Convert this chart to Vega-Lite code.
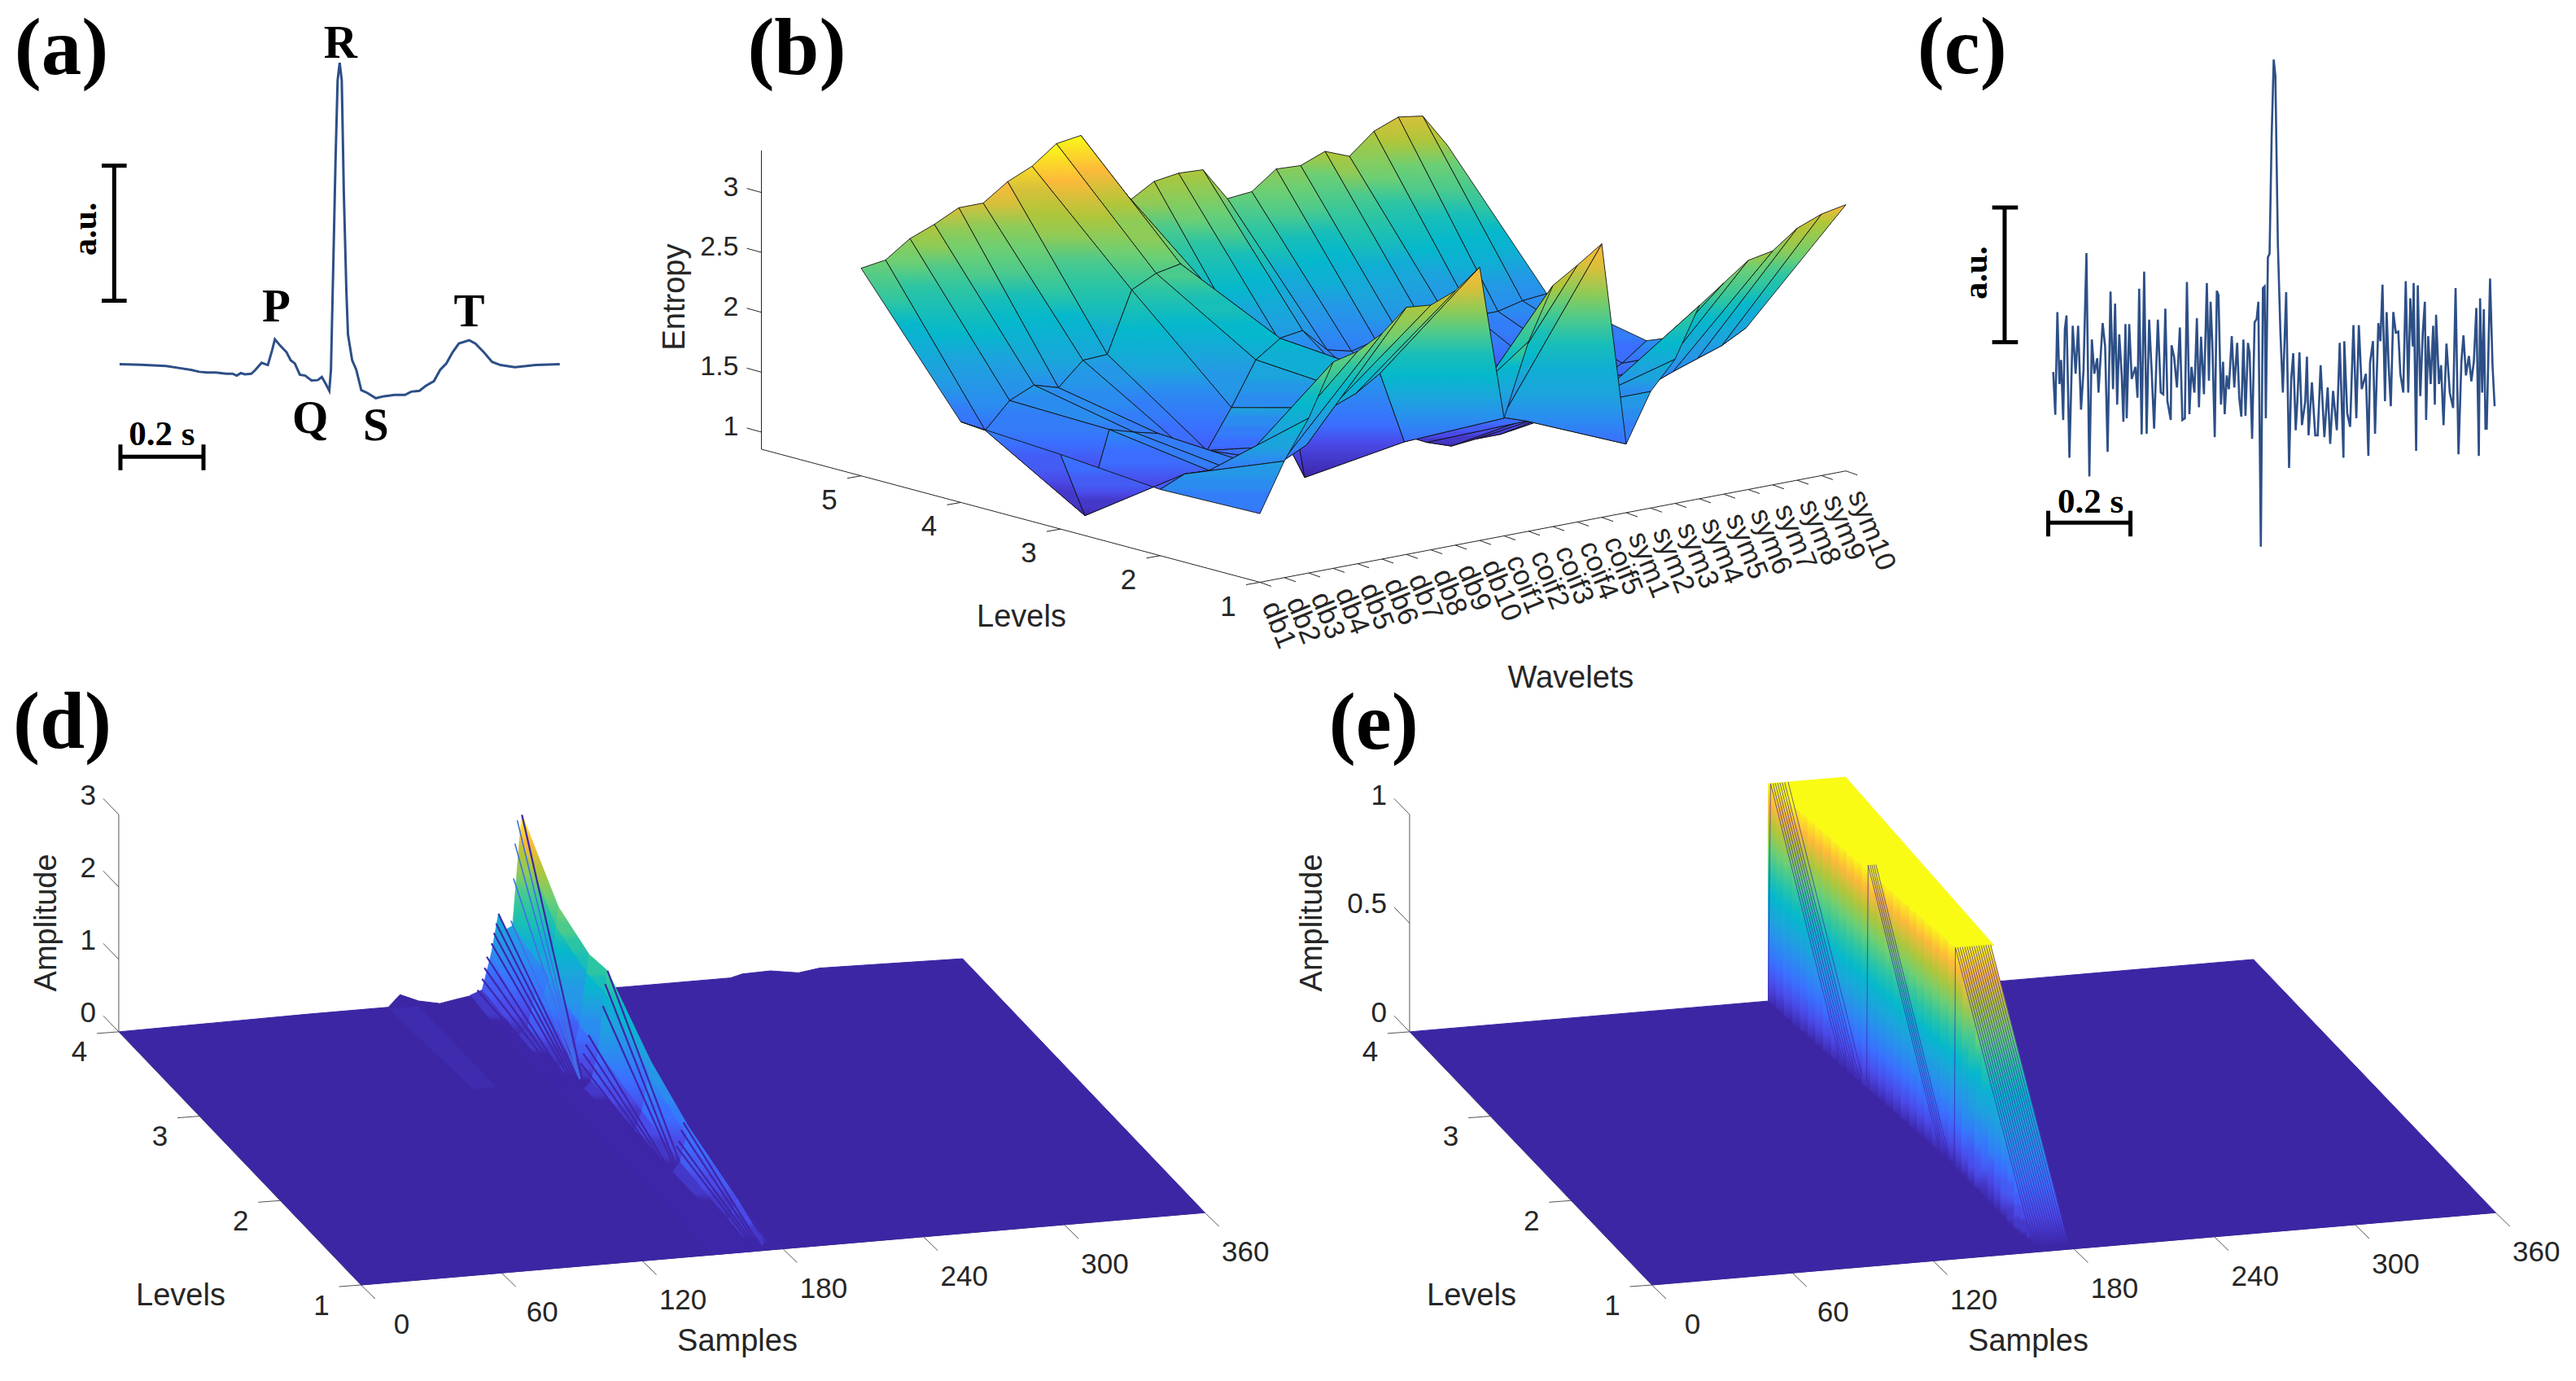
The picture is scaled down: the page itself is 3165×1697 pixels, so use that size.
{"$schema":"https://vega.github.io/schema/vega-lite/v6.json","padding":0,"background":"white","bounds":"flush","spacing":0,"columns":3,"config":{"view":{"stroke":null},"concat":{"spacing":0}},
"params":[{"name":"pal","value":["#3e26a8","#4438c8","#4a4ae8","#435cf4","#3b6eff","#337df8","#2b8cf0","#2498e6","#1ca4dc","#10aed4","#05b8cc","#18beb8","#2cc5a4","#4cca8c","#6ccf74","#8ecb57","#b0c63a","#d6c03a","#fdb93a","#fbda28","#f9fb15"]}],
"datasets":{
"a":[{"ms":288,"amp":868},{"ms":340,"amp":866},{"ms":400,"amp":862},{"ms":430,"amp":856},{"ms":460,"amp":850},{"ms":480,"amp":844},{"ms":500,"amp":842},{"ms":520,"amp":842},{"ms":545,"amp":838},{"ms":560,"amp":838},{"ms":570,"amp":832},{"ms":580,"amp":840},{"ms":590,"amp":836},{"ms":605,"amp":838},{"ms":615,"amp":850},{"ms":630,"amp":872},{"ms":645,"amp":865},{"ms":655,"amp":910},{"ms":662,"amp":945},{"ms":675,"amp":925},{"ms":690,"amp":905},{"ms":700,"amp":880},{"ms":710,"amp":870},{"ms":722,"amp":835},{"ms":735,"amp":832},{"ms":750,"amp":817},{"ms":765,"amp":818},{"ms":775,"amp":828},{"ms":785,"amp":805},{"ms":793,"amp":785},{"ms":797,"amp":850},{"ms":803,"amp":1200},{"ms":808,"amp":1500},{"ms":813,"amp":1750},{"ms":818,"amp":1805},{"ms":823,"amp":1750},{"ms":828,"amp":1400},{"ms":834,"amp":1100},{"ms":838,"amp":960},{"ms":848,"amp":880},{"ms":858,"amp":850},{"ms":870,"amp":787},{"ms":885,"amp":778},{"ms":905,"amp":762},{"ms":925,"amp":768},{"ms":950,"amp":772},{"ms":975,"amp":772},{"ms":990,"amp":782},{"ms":1010,"amp":785},{"ms":1025,"amp":800},{"ms":1045,"amp":815},{"ms":1060,"amp":850},{"ms":1075,"amp":870},{"ms":1090,"amp":905},{"ms":1105,"amp":932},{"ms":1130,"amp":942},{"ms":1145,"amp":932},{"ms":1165,"amp":905},{"ms":1185,"amp":875},{"ms":1205,"amp":865},{"ms":1240,"amp":858},{"ms":1290,"amp":865},{"ms":1348,"amp":868}],
"aBars":[{"ms":275,"ms2":275,"amp":1485,"amp2":1065},{"ms":245,"ms2":305,"amp":1485,"amp2":1485},{"ms":245,"ms2":305,"amp":1065,"amp2":1065},{"ms":290,"ms2":490,"amp":580,"amp2":580},{"ms":290,"ms2":290,"amp":618,"amp2":538},{"ms":490,"ms2":490,"amp":618,"amp2":538}],
"c":[{"ms":397,"amp":585},{"ms":402,"amp":460},{"ms":407,"amp":760},{"ms":412,"amp":550},{"ms":416,"amp":620},{"ms":421,"amp":445},{"ms":425,"amp":710},{"ms":429,"amp":750},{"ms":436,"amp":335},{"ms":444,"amp":720},{"ms":451,"amp":580},{"ms":457,"amp":720},{"ms":464,"amp":475},{"ms":470,"amp":590},{"ms":477,"amp":932},{"ms":484,"amp":280},{"ms":490,"amp":680},{"ms":496,"amp":580},{"ms":503,"amp":625},{"ms":506,"amp":525},{"ms":516,"amp":728},{"ms":522,"amp":660},{"ms":528,"amp":352},{"ms":535,"amp":820},{"ms":541,"amp":535},{"ms":546,"amp":785},{"ms":551,"amp":490},{"ms":556,"amp":695},{"ms":562,"amp":575},{"ms":566,"amp":440},{"ms":571,"amp":725},{"ms":574,"amp":450},{"ms":580,"amp":725},{"ms":586,"amp":565},{"ms":595,"amp":600},{"ms":600,"amp":510},{"ms":604,"amp":828},{"ms":610,"amp":403},{"ms":616,"amp":878},{"ms":622,"amp":405},{"ms":628,"amp":738},{"ms":634,"amp":590},{"ms":640,"amp":420},{"ms":649,"amp":738},{"ms":656,"amp":525},{"ms":662,"amp":520},{"ms":667,"amp":770},{"ms":672,"amp":500},{"ms":680,"amp":445},{"ms":682,"amp":663},{"ms":688,"amp":630},{"ms":695,"amp":540},{"ms":702,"amp":715},{"ms":708,"amp":445},{"ms":714,"amp":450},{"ms":719,"amp":848},{"ms":725,"amp":462},{"ms":730,"amp":600},{"ms":737,"amp":525},{"ms":743,"amp":742},{"ms":748,"amp":482},{"ms":753,"amp":688},{"ms":760,"amp":520},{"ms":767,"amp":845},{"ms":772,"amp":560},{"ms":776,"amp":790},{"ms":780,"amp":675},{"ms":786,"amp":395},{"ms":791,"amp":822},{"ms":795,"amp":810},{"ms":801,"amp":490},{"ms":806,"amp":615},{"ms":810,"amp":462},{"ms":815,"amp":575},{"ms":820,"amp":535},{"ms":827,"amp":690},{"ms":833,"amp":540},{"ms":840,"amp":670},{"ms":845,"amp":510},{"ms":850,"amp":455},{"ms":855,"amp":680},{"ms":860,"amp":457},{"ms":866,"amp":670},{"ms":870,"amp":640},{"ms":876,"amp":390},{"ms":882,"amp":730},{"ms":887,"amp":740},{"ms":891,"amp":790},{"ms":897,"amp":75},{"ms":902,"amp":830},{"ms":906,"amp":835},{"ms":909,"amp":450},{"ms":914,"amp":920},{"ms":918,"amp":930},{"ms":923,"amp":1270},{"ms":928,"amp":1497},{"ms":932,"amp":1450},{"ms":938,"amp":960},{"ms":944,"amp":705},{"ms":950,"amp":525},{"ms":958,"amp":818},{"ms":965,"amp":305},{"ms":970,"amp":560},{"ms":975,"amp":640},{"ms":981,"amp":415},{"ms":985,"amp":500},{"ms":990,"amp":642},{"ms":996,"amp":430},{"ms":1004,"amp":500},{"ms":1008,"amp":630},{"ms":1012,"amp":400},{"ms":1020,"amp":555},{"ms":1028,"amp":400},{"ms":1034,"amp":400},{"ms":1041,"amp":605},{"ms":1050,"amp":395},{"ms":1058,"amp":540},{"ms":1064,"amp":375},{"ms":1071,"amp":530},{"ms":1080,"amp":415},{"ms":1087,"amp":670},{"ms":1096,"amp":335},{"ms":1098,"amp":675},{"ms":1105,"amp":465},{"ms":1112,"amp":425},{"ms":1120,"amp":722},{"ms":1127,"amp":450},{"ms":1133,"amp":722},{"ms":1140,"amp":535},{"ms":1150,"amp":580},{"ms":1156,"amp":340},{"ms":1160,"amp":612},{"ms":1167,"amp":675},{"ms":1172,"amp":405},{"ms":1180,"amp":728},{"ms":1185,"amp":675},{"ms":1190,"amp":840},{"ms":1196,"amp":500},{"ms":1200,"amp":760},{"ms":1205,"amp":600},{"ms":1210,"amp":485},{"ms":1216,"amp":760},{"ms":1222,"amp":700},{"ms":1228,"amp":703},{"ms":1233,"amp":580},{"ms":1240,"amp":525},{"ms":1246,"amp":850},{"ms":1252,"amp":525},{"ms":1257,"amp":800},{"ms":1263,"amp":660},{"ms":1265,"amp":845},{"ms":1271,"amp":355},{"ms":1275,"amp":838},{"ms":1281,"amp":515},{"ms":1287,"amp":700},{"ms":1292,"amp":790},{"ms":1295,"amp":445},{"ms":1300,"amp":690},{"ms":1306,"amp":550},{"ms":1312,"amp":720},{"ms":1316,"amp":490},{"ms":1319,"amp":752},{"ms":1326,"amp":550},{"ms":1331,"amp":605},{"ms":1337,"amp":430},{"ms":1344,"amp":668},{"ms":1352,"amp":525},{"ms":1360,"amp":480},{"ms":1366,"amp":830},{"ms":1373,"amp":345},{"ms":1380,"amp":615},{"ms":1385,"amp":692},{"ms":1391,"amp":575},{"ms":1398,"amp":632},{"ms":1404,"amp":558},{"ms":1410,"amp":615},{"ms":1416,"amp":772},{"ms":1422,"amp":340},{"ms":1425,"amp":800},{"ms":1430,"amp":525},{"ms":1434,"amp":768},{"ms":1438,"amp":420},{"ms":1441,"amp":420},{"ms":1449,"amp":858},{"ms":1455,"amp":605},{"ms":1460,"amp":485}],
"cBars":[{"ms":280,"ms2":280,"amp":1065,"amp2":672},{"ms":250,"ms2":312,"amp":1065,"amp2":1065},{"ms":250,"ms2":312,"amp":672,"amp2":672},{"ms":385,"ms2":583,"amp":145,"amp2":145},{"ms":385,"ms2":385,"amp":180,"amp2":105},{"ms":583,"ms2":583,"amp":180,"amp2":105}],
"b":[
{"k":"g","i":25,"l":5,"z":2.69},{"k":"g","i":24,"l":5,"z":2.97},{"k":"g","i":23,"l":5,"z":3.0},{"k":"g","i":22,"l":5,"z":2.92},{"k":"g","i":21,"l":5,"z":2.75},{"k":"g","i":20,"l":5,"z":2.83},{"k":"g","i":19,"l":5,"z":2.75},{"k":"g","i":18,"l":5,"z":2.76},{"k":"g","i":17,"l":5,"z":2.61},{"k":"g","i":16,"l":5,"z":2.59},{"k":"g","i":15,"l":5,"z":2.87},{"k":"g","i":14,"l":5,"z":2.88},{"k":"g","i":13,"l":5,"z":2.85},{"k":"g","i":12,"l":5,"z":2.73},{"k":"g","i":11,"l":5,"z":3.02},{"k":"g","i":10,"l":5,"z":3.35},{"k":"g","i":9,"l":5,"z":3.32},{"k":"g","i":8,"l":5,"z":3.17},{"k":"g","i":7,"l":5,"z":3.08},{"k":"g","i":6,"l":5,"z":2.94},{"k":"g","i":5,"l":5,"z":2.94},{"k":"g","i":4,"l":5,"z":2.84},{"k":"g","i":3,"l":5,"z":2.76},{"k":"g","i":2,"l":5,"z":2.62},{"k":"g","i":1,"l":5,"z":2.59},
{"k":"g","i":25,"l":4,"z":1.67},{"k":"g","i":24,"l":4,"z":1.65},{"k":"g","i":23,"l":4,"z":1.6},{"k":"g","i":22,"l":4,"z":1.6},{"k":"g","i":21,"l":4,"z":1.6},{"k":"g","i":20,"l":4,"z":1.6},{"k":"g","i":19,"l":4,"z":1.55},{"k":"g","i":18,"l":4,"z":1.55},{"k":"g","i":17,"l":4,"z":1.5},{"k":"g","i":16,"l":4,"z":1.55},{"k":"g","i":15,"l":4,"z":1.75},{"k":"g","i":14,"l":4,"z":1.72},{"k":"g","i":13,"l":4,"z":1.59},{"k":"g","i":12,"l":4,"z":1.6},{"k":"g","i":11,"l":4,"z":2.3},{"k":"g","i":10,"l":4,"z":2.5},{"k":"g","i":9,"l":4,"z":2.46},{"k":"g","i":8,"l":4,"z":2.36},{"k":"g","i":7,"l":4,"z":1.86},{"k":"g","i":6,"l":4,"z":1.85},{"k":"g","i":5,"l":4,"z":1.66},{"k":"g","i":4,"l":4,"z":1.72},{"k":"g","i":3,"l":4,"z":1.63},{"k":"g","i":2,"l":4,"z":1.42},{"k":"g","i":1,"l":4,"z":1.53},
{"k":"g","i":25,"l":3,"z":1.5},{"k":"g","i":24,"l":3,"z":1.35},{"k":"g","i":23,"l":3,"z":1.25},{"k":"g","i":22,"l":3,"z":1.15},{"k":"g","i":21,"l":3,"z":1.05},{"k":"g","i":20,"l":3,"z":0.98},{"k":"g","i":19,"l":3,"z":0.95},{"k":"g","i":18,"l":3,"z":0.95},{"k":"g","i":17,"l":3,"z":0.93},{"k":"g","i":16,"l":3,"z":1.0},{"k":"g","i":15,"l":3,"z":1.1},{"k":"g","i":14,"l":3,"z":1.1},{"k":"g","i":13,"l":3,"z":1.05},{"k":"g","i":12,"l":3,"z":1.0},{"k":"g","i":11,"l":3,"z":0.9},{"k":"g","i":10,"l":3,"z":2.1},{"k":"g","i":9,"l":3,"z":1.96},{"k":"g","i":8,"l":3,"z":1.6},{"k":"g","i":7,"l":3,"z":1.28},{"k":"g","i":6,"l":3,"z":1.35},{"k":"g","i":5,"l":3,"z":1.5},{"k":"g","i":4,"l":3,"z":1.55},{"k":"g","i":3,"l":3,"z":1.61},{"k":"g","i":2,"l":3,"z":0.93},{"k":"g","i":1,"l":3,"z":1.48},
{"k":"g","i":25,"l":2,"z":1.83},{"k":"g","i":24,"l":2,"z":1.72},{"k":"g","i":23,"l":2,"z":1.65},{"k":"g","i":22,"l":2,"z":1.58},{"k":"g","i":21,"l":2,"z":1.5},{"k":"g","i":20,"l":2,"z":1.5},{"k":"g","i":19,"l":2,"z":1.5},{"k":"g","i":18,"l":2,"z":1.45},{"k":"g","i":17,"l":2,"z":1.45},{"k":"g","i":16,"l":2,"z":1.4},{"k":"g","i":15,"l":2,"z":1.47},{"k":"g","i":14,"l":2,"z":1.46},{"k":"g","i":13,"l":2,"z":1.45},{"k":"g","i":12,"l":2,"z":1.44},{"k":"g","i":11,"l":2,"z":1.42},{"k":"g","i":10,"l":2,"z":2.03},{"k":"g","i":9,"l":2,"z":1.9},{"k":"g","i":8,"l":2,"z":1.82},{"k":"g","i":7,"l":2,"z":1.55},{"k":"g","i":6,"l":2,"z":1.45},{"k":"g","i":5,"l":2,"z":1.45},{"k":"g","i":4,"l":2,"z":1.45},{"k":"g","i":3,"l":2,"z":1.49},{"k":"g","i":2,"l":2,"z":1.5},{"k":"g","i":1,"l":2,"z":1.41},
{"k":"g","i":25,"l":1,"z":3.08},{"k":"g","i":24,"l":1,"z":3.04},{"k":"g","i":23,"l":1,"z":2.96},{"k":"g","i":22,"l":1,"z":2.81},{"k":"g","i":21,"l":1,"z":2.77},{"k":"g","i":20,"l":1,"z":2.62},{"k":"g","i":19,"l":1,"z":2.47},{"k":"g","i":18,"l":1,"z":2.06},{"k":"g","i":17,"l":1,"z":1.83},{"k":"g","i":16,"l":1,"z":1.43},{"k":"g","i":15,"l":1,"z":3.14},{"k":"g","i":14,"l":1,"z":3.0},{"k":"g","i":13,"l":1,"z":2.87},{"k":"g","i":12,"l":1,"z":2.44},{"k":"g","i":11,"l":1,"z":1.84},{"k":"g","i":10,"l":1,"z":3.14},{"k":"g","i":9,"l":1,"z":2.98},{"k":"g","i":8,"l":1,"z":2.9},{"k":"g","i":7,"l":1,"z":2.92},{"k":"g","i":6,"l":1,"z":2.74},{"k":"g","i":5,"l":1,"z":2.63},{"k":"g","i":4,"l":1,"z":2.58},{"k":"g","i":3,"l":1,"z":2.15},{"k":"g","i":2,"l":1,"z":1.83},{"k":"g","i":1,"l":1,"z":1.43},
{"k":"ax","i":1,"l":6,"z":0.857,"i2":1,"l2":1,"z2":0.857},{"k":"ax","i":1,"l":1,"z":0.857,"i2":25,"l2":1,"z2":0.857},{"k":"ax","i":1,"l":6,"z":0.857,"i2":1,"l2":6,"z2":3.35},
{"k":"lt","i":1,"l":1,"z":0.857,"t":"1"},{"k":"lt","i":1,"l":2,"z":0.857,"t":"2"},{"k":"lt","i":1,"l":3,"z":0.857,"t":"3"},{"k":"lt","i":1,"l":4,"z":0.857,"t":"4"},{"k":"lt","i":1,"l":5,"z":0.857,"t":"5"},
{"k":"zt","i":1,"l":6,"z":1,"t":"1"},{"k":"zt","i":1,"l":6,"z":1.5,"t":"1.5"},{"k":"zt","i":1,"l":6,"z":2,"t":"2"},{"k":"zt","i":1,"l":6,"z":2.5,"t":"2.5"},{"k":"zt","i":1,"l":6,"z":3,"t":"3"},
{"k":"wt","i":1,"l":1,"z":0.857,"t":"db1"},{"k":"wt","i":2,"l":1,"z":0.857,"t":"db2"},{"k":"wt","i":3,"l":1,"z":0.857,"t":"db3"},{"k":"wt","i":4,"l":1,"z":0.857,"t":"db4"},{"k":"wt","i":5,"l":1,"z":0.857,"t":"db5"},{"k":"wt","i":6,"l":1,"z":0.857,"t":"db6"},{"k":"wt","i":7,"l":1,"z":0.857,"t":"db7"},{"k":"wt","i":8,"l":1,"z":0.857,"t":"db8"},{"k":"wt","i":9,"l":1,"z":0.857,"t":"db9"},{"k":"wt","i":10,"l":1,"z":0.857,"t":"db10"},{"k":"wt","i":11,"l":1,"z":0.857,"t":"coif1"},{"k":"wt","i":12,"l":1,"z":0.857,"t":"coif2"},{"k":"wt","i":13,"l":1,"z":0.857,"t":"coif3"},{"k":"wt","i":14,"l":1,"z":0.857,"t":"coif4"},{"k":"wt","i":15,"l":1,"z":0.857,"t":"coif5"},{"k":"wt","i":16,"l":1,"z":0.857,"t":"sym1"},{"k":"wt","i":17,"l":1,"z":0.857,"t":"sym2"},{"k":"wt","i":18,"l":1,"z":0.857,"t":"sym3"},{"k":"wt","i":19,"l":1,"z":0.857,"t":"sym4"},{"k":"wt","i":20,"l":1,"z":0.857,"t":"sym5"},{"k":"wt","i":21,"l":1,"z":0.857,"t":"sym6"},{"k":"wt","i":22,"l":1,"z":0.857,"t":"sym7"},{"k":"wt","i":23,"l":1,"z":0.857,"t":"sym8"},{"k":"wt","i":24,"l":1,"z":0.857,"t":"sym9"},{"k":"wt","i":25,"l":1,"z":0.857,"t":"sym10"},
{"k":"ti","i":-0.6,"l":3,"z":0.178,"t":"Levels"},{"k":"ti","i":13.73,"l":1,"z":-0.441,"t":"Wavelets"},{"k":"ty","i":-2.51,"l":6,"z":2.263,"t":"Entropy"},{"k":"pl","i":0.43,"l":6,"z":4.01,"t":"(b)"}
],
"d":[
{"k":"p","o":0,"s":0,"l":4,"z":0},{"k":"p","o":1,"s":40,"l":4,"z":0.01},{"k":"p","o":2,"s":80,"l":4,"z":0.02},{"k":"p","o":3,"s":115,"l":4,"z":0.02},{"k":"p","o":4,"s":120,"l":4,"z":0.18},{"k":"p","o":5,"s":128,"l":4,"z":0.07},{"k":"p","o":6,"s":137,"l":4,"z":0.01},{"k":"p","o":7,"s":144,"l":4,"z":0.05},{"k":"p","o":8,"s":152,"l":4,"z":0.09},{"k":"p","o":9,"s":215,"l":4,"z":0.02},{"k":"p","o":10,"s":261,"l":4,"z":0.02},{"k":"p","o":11,"s":266,"l":4,"z":0.06},{"k":"p","o":12,"s":278,"l":4,"z":0.07},{"k":"p","o":13,"s":290,"l":4,"z":0.01},{"k":"p","o":14,"s":299,"l":4,"z":0.05},{"k":"p","o":15,"s":360,"l":4,"z":0.01},{"k":"p","o":16,"s":360,"l":1,"z":0},{"k":"p","o":17,"s":0,"l":1,"z":0},
{"k":"pw","o":0,"s":115,"l":4,"z":0},{"k":"pw","o":1,"s":128,"l":4,"z":0},{"k":"pw","o":2,"s":128,"l":3.04,"z":0},{"k":"pw","o":3,"s":118,"l":3.04,"z":0},
{"k":"g","g":"m","c":9,"r":7,"s":180,"l":4,"z":0},{"k":"g","g":"m","c":8,"r":7,"s":176,"l":4,"z":0.4},{"k":"g","g":"m","c":7,"r":7,"s":172,"l":4,"z":2.52},{"k":"g","g":"m","c":6,"r":7,"s":171,"l":4,"z":2.2},{"k":"g","g":"m","c":5,"r":7,"s":168,"l":4,"z":1.0},{"k":"g","g":"m","c":4,"r":7,"s":165,"l":4,"z":0.95},{"k":"g","g":"m","c":3,"r":7,"s":162,"l":4,"z":1.18},{"k":"g","g":"m","c":2,"r":7,"s":159,"l":4,"z":0.65},{"k":"g","g":"m","c":1,"r":7,"s":155,"l":4,"z":0.15},{"k":"g","g":"m","c":0,"r":7,"s":150,"l":4,"z":0.09},
{"k":"g","g":"m","c":9,"r":6,"s":180,"l":3.55,"z":0},{"k":"g","g":"m","c":8,"r":6,"s":176,"l":3.55,"z":0.3},{"k":"g","g":"m","c":7,"r":6,"s":172,"l":3.55,"z":1.77},{"k":"g","g":"m","c":6,"r":6,"s":171,"l":3.55,"z":1.5},{"k":"g","g":"m","c":5,"r":6,"s":168,"l":3.55,"z":0.8},{"k":"g","g":"m","c":4,"r":6,"s":165,"l":3.55,"z":0.5},{"k":"g","g":"m","c":3,"r":6,"s":162,"l":3.55,"z":0.6},{"k":"g","g":"m","c":2,"r":6,"s":159,"l":3.55,"z":0.15},{"k":"g","g":"m","c":1,"r":6,"s":155,"l":3.55,"z":0.05},{"k":"g","g":"m","c":0,"r":6,"s":150,"l":3.55,"z":0},
{"k":"g","g":"m","c":9,"r":5,"s":180,"l":3.17,"z":0},{"k":"g","g":"m","c":8,"r":5,"s":176,"l":3.17,"z":0.25},{"k":"g","g":"m","c":7,"r":5,"s":172,"l":3.17,"z":1.56},{"k":"g","g":"m","c":6,"r":5,"s":171,"l":3.17,"z":1.3},{"k":"g","g":"m","c":5,"r":5,"s":168,"l":3.17,"z":0.6},{"k":"g","g":"m","c":4,"r":5,"s":165,"l":3.17,"z":0.2},{"k":"g","g":"m","c":3,"r":5,"s":162,"l":3.17,"z":0.12},{"k":"g","g":"m","c":2,"r":5,"s":159,"l":3.17,"z":0.05},{"k":"g","g":"m","c":1,"r":5,"s":155,"l":3.17,"z":0},{"k":"g","g":"m","c":0,"r":5,"s":150,"l":3.17,"z":0},
{"k":"g","g":"m","c":9,"r":4,"s":180,"l":2.94,"z":0},{"k":"g","g":"m","c":8,"r":4,"s":176,"l":2.94,"z":0.2},{"k":"g","g":"m","c":7,"r":4,"s":172,"l":2.94,"z":1.6},{"k":"g","g":"m","c":6,"r":4,"s":171,"l":2.94,"z":1.3},{"k":"g","g":"m","c":5,"r":4,"s":168,"l":2.94,"z":0.5},{"k":"g","g":"m","c":4,"r":4,"s":165,"l":2.94,"z":0.1},{"k":"g","g":"m","c":3,"r":4,"s":162,"l":2.94,"z":0},{"k":"g","g":"m","c":2,"r":4,"s":159,"l":2.94,"z":0},{"k":"g","g":"m","c":1,"r":4,"s":155,"l":2.94,"z":0},{"k":"g","g":"m","c":0,"r":4,"s":150,"l":2.94,"z":0},
{"k":"g","g":"m","c":9,"r":3,"s":180,"l":2.4,"z":0},{"k":"g","g":"m","c":8,"r":3,"s":176,"l":2.4,"z":0.12},{"k":"g","g":"m","c":7,"r":3,"s":172,"l":2.4,"z":0.97},{"k":"g","g":"m","c":6,"r":3,"s":171,"l":2.4,"z":0.8},{"k":"g","g":"m","c":5,"r":3,"s":168,"l":2.4,"z":0.3},{"k":"g","g":"m","c":4,"r":3,"s":165,"l":2.4,"z":0.05},{"k":"g","g":"m","c":3,"r":3,"s":162,"l":2.4,"z":0},{"k":"g","g":"m","c":2,"r":3,"s":159,"l":2.4,"z":0},{"k":"g","g":"m","c":1,"r":3,"s":155,"l":2.4,"z":0},{"k":"g","g":"m","c":0,"r":3,"s":150,"l":2.4,"z":0},
{"k":"g","g":"m","c":9,"r":2,"s":180,"l":1.93,"z":0},{"k":"g","g":"m","c":8,"r":2,"s":176,"l":1.93,"z":0.08},{"k":"g","g":"m","c":7,"r":2,"s":172,"l":1.93,"z":0.61},{"k":"g","g":"m","c":6,"r":2,"s":171,"l":1.93,"z":0.5},{"k":"g","g":"m","c":5,"r":2,"s":168,"l":1.93,"z":0.15},{"k":"g","g":"m","c":4,"r":2,"s":165,"l":1.93,"z":0.02},{"k":"g","g":"m","c":3,"r":2,"s":162,"l":1.93,"z":0},{"k":"g","g":"m","c":2,"r":2,"s":159,"l":1.93,"z":0},{"k":"g","g":"m","c":1,"r":2,"s":155,"l":1.93,"z":0},{"k":"g","g":"m","c":0,"r":2,"s":150,"l":1.93,"z":0},
{"k":"g","g":"m","c":9,"r":1,"s":180,"l":1.33,"z":0},{"k":"g","g":"m","c":8,"r":1,"s":176,"l":1.33,"z":0.04},{"k":"g","g":"m","c":7,"r":1,"s":172,"l":1.33,"z":0.32},{"k":"g","g":"m","c":6,"r":1,"s":171,"l":1.33,"z":0.25},{"k":"g","g":"m","c":5,"r":1,"s":168,"l":1.33,"z":0.05},{"k":"g","g":"m","c":4,"r":1,"s":165,"l":1.33,"z":0},{"k":"g","g":"m","c":3,"r":1,"s":162,"l":1.33,"z":0},{"k":"g","g":"m","c":2,"r":1,"s":159,"l":1.33,"z":0},{"k":"g","g":"m","c":1,"r":1,"s":155,"l":1.33,"z":0},{"k":"g","g":"m","c":0,"r":1,"s":150,"l":1.33,"z":0},
{"k":"g","g":"m","c":9,"r":0,"s":180,"l":1,"z":0},{"k":"g","g":"m","c":8,"r":0,"s":176,"l":1,"z":0.01},{"k":"g","g":"m","c":7,"r":0,"s":172,"l":1,"z":0.1},{"k":"g","g":"m","c":6,"r":0,"s":171,"l":1,"z":0.07},{"k":"g","g":"m","c":5,"r":0,"s":168,"l":1,"z":0},{"k":"g","g":"m","c":4,"r":0,"s":165,"l":1,"z":0},{"k":"g","g":"m","c":3,"r":0,"s":162,"l":1,"z":0},{"k":"g","g":"m","c":2,"r":0,"s":159,"l":1,"z":0},{"k":"g","g":"m","c":1,"r":0,"s":155,"l":1,"z":0},{"k":"g","g":"m","c":0,"r":0,"s":150,"l":1,"z":0},
{"k":"cd","s":162,"l":4,"z":1.18,"s2":163,"l2":3.05,"z2":0},{"k":"cd","s":161,"l":4,"z":1.05,"s2":162,"l2":3.05,"z2":0},{"k":"cd","s":160,"l":4,"z":0.92,"s2":161,"l2":3.05,"z2":0},{"k":"cd","s":159,"l":4,"z":0.78,"s2":160,"l2":3.05,"z2":0},{"k":"cd","s":157,"l":4,"z":0.6,"s2":158,"l2":3.05,"z2":0},{"k":"cd","s":156,"l":4,"z":0.45,"s2":157,"l2":3.05,"z2":0},{"k":"cd","s":155,"l":4,"z":0.3,"s2":156,"l2":3.05,"z2":0},{"k":"cd","s":153,"l":4,"z":0.15,"s2":154,"l2":3.05,"z2":0},{"k":"cd","s":172,"l":4,"z":2.52,"s2":165,"l2":3.05,"z2":0},
{"k":"cd","s":172,"l":2.94,"z":1.6,"s2":172,"l2":2.05,"z2":0},{"k":"cd","s":171,"l":2.94,"z":1.42,"s2":170,"l2":2.05,"z2":0},{"k":"cd","s":170,"l":2.94,"z":1.12,"s2":169,"l2":2.05,"z2":0},{"k":"cd","s":165.9,"l":3,"z":0.66,"s2":166,"l2":2.05,"z2":0},{"k":"cd","s":164.8,"l":3,"z":0.53,"s2":165,"l2":2.05,"z2":0},{"k":"cd","s":163.7,"l":3,"z":0.41,"s2":164,"l2":2.05,"z2":0},{"k":"cd","s":162.6,"l":3,"z":0.28,"s2":163,"l2":2.05,"z2":0},
{"k":"cd","s":172,"l":2,"z":0.6,"s2":172,"l2":1.05,"z2":0},{"k":"cd","s":171,"l":2,"z":0.5,"s2":171,"l2":1.05,"z2":0},{"k":"cd","s":170,"l":2,"z":0.35,"s2":170,"l2":1.05,"z2":0},{"k":"cd","s":169,"l":2,"z":0.28,"s2":169,"l2":1.05,"z2":0},
{"k":"cb","s":170,"l":4,"z":2.45,"s2":164,"l2":3.05,"z2":0},{"k":"cb","s":169,"l":4,"z":2.13,"s2":164,"l2":3.05,"z2":0},{"k":"cb","s":168.4,"l":4,"z":1.65,"s2":164,"l2":3.05,"z2":0},{"k":"cb","s":167.3,"l":4,"z":1.07,"s2":164,"l2":3.05,"z2":0},
{"k":"ax","s":0,"l":4,"z":0,"s2":0,"l2":1,"z2":0},{"k":"ax","s":0,"l":1,"z":0,"s2":360,"l2":1,"z2":0},{"k":"ax","s":0,"l":4,"z":0,"s2":0,"l2":4,"z2":3},
{"k":"st","s":0,"l":1,"z":0,"t":"0"},{"k":"st","s":60,"l":1,"z":0,"t":"60"},{"k":"st","s":120,"l":1,"z":0,"t":"120"},{"k":"st","s":180,"l":1,"z":0,"t":"180"},{"k":"st","s":240,"l":1,"z":0,"t":"240"},{"k":"st","s":300,"l":1,"z":0,"t":"300"},{"k":"st","s":360,"l":1,"z":0,"t":"360"},
{"k":"lt","s":0,"l":1,"z":0,"t":"1"},{"k":"lt","s":0,"l":2,"z":0,"t":"2"},{"k":"lt","s":0,"l":3,"z":0,"t":"3"},{"k":"lt","s":0,"l":4,"z":0,"t":"4"},
{"k":"zt","s":0,"l":4,"z":0,"t":"0"},{"k":"zt","s":0,"l":4,"z":1,"t":"1"},{"k":"zt","s":0,"l":4,"z":2,"t":"2"},{"k":"zt","s":0,"l":4,"z":3,"t":"3"},
{"k":"ti","s":160.6,"l":1,"z":-1.23,"t":"Samples"},{"k":"ti","s":-76.9,"l":1,"z":0.06,"t":"Levels"},{"k":"ty","s":-30.4,"l":4,"z":1.59,"t":"Amplitude"},{"k":"pl","s":-45.1,"l":4,"z":4.04,"t":"(d)"}
],
"e":[
{"k":"p","o":0,"s":0,"l":4,"z":0},{"k":"p","o":1,"s":360,"l":4,"z":0},{"k":"p","o":2,"s":360,"l":1,"z":0},{"k":"p","o":3,"s":0,"l":1,"z":0},
{"k":"py","o":0,"s":153,"l":4,"z":1},{"k":"py","o":1,"s":186,"l":4,"z":1},{"k":"py","o":2,"s":181,"l":2.02,"z":1},{"k":"py","o":3,"s":165,"l":2.03,"z":1},
{"k":"g","g":"t","c":12,"r":1,"s":165,"l":1.07,"z":0},{"k":"g","g":"t","c":11,"r":1,"s":165,"l":1.15,"z":0.083},{"k":"g","g":"t","c":10,"r":1,"s":165,"l":1.23,"z":0.167},{"k":"g","g":"t","c":9,"r":1,"s":165,"l":1.31,"z":0.25},{"k":"g","g":"t","c":8,"r":1,"s":165,"l":1.39,"z":0.333},{"k":"g","g":"t","c":7,"r":1,"s":165,"l":1.47,"z":0.417},{"k":"g","g":"t","c":6,"r":1,"s":165,"l":1.55,"z":0.5},{"k":"g","g":"t","c":5,"r":1,"s":165,"l":1.63,"z":0.583},{"k":"g","g":"t","c":4,"r":1,"s":165,"l":1.71,"z":0.667},{"k":"g","g":"t","c":3,"r":1,"s":165,"l":1.79,"z":0.75},{"k":"g","g":"t","c":2,"r":1,"s":165,"l":1.87,"z":0.833},{"k":"g","g":"t","c":1,"r":1,"s":165,"l":1.95,"z":0.917},{"k":"g","g":"t","c":0,"r":1,"s":165,"l":2.03,"z":1},
{"k":"g","g":"t","c":12,"r":0,"s":165,"l":1.07,"z":0},{"k":"g","g":"t","c":11,"r":0,"s":164.96,"l":1.15,"z":0},{"k":"g","g":"t","c":10,"r":0,"s":164.92,"l":1.23,"z":0},{"k":"g","g":"t","c":9,"r":0,"s":164.88,"l":1.31,"z":0},{"k":"g","g":"t","c":8,"r":0,"s":164.83,"l":1.39,"z":0},{"k":"g","g":"t","c":7,"r":0,"s":164.79,"l":1.47,"z":0},{"k":"g","g":"t","c":6,"r":0,"s":164.75,"l":1.55,"z":0},{"k":"g","g":"t","c":5,"r":0,"s":164.71,"l":1.63,"z":0},{"k":"g","g":"t","c":4,"r":0,"s":164.67,"l":1.71,"z":0},{"k":"g","g":"t","c":3,"r":0,"s":164.63,"l":1.79,"z":0},{"k":"g","g":"t","c":2,"r":0,"s":164.58,"l":1.87,"z":0},{"k":"g","g":"t","c":1,"r":0,"s":164.54,"l":1.95,"z":0},{"k":"g","g":"t","c":0,"r":0,"s":164.5,"l":2.03,"z":0},
{"k":"g","g":"s","c":1,"r":1,"s":180,"l":2.03,"z":1},{"k":"g","g":"s","c":0,"r":1,"s":165,"l":2.03,"z":1},{"k":"g","g":"s","c":1,"r":0,"s":180,"l":1.07,"z":0},{"k":"g","g":"s","c":0,"r":0,"s":165,"l":1.07,"z":0},
{"k":"g","g":"w","c":24,"r":1,"s":165,"l":2.03,"z":1},{"k":"g","g":"w","c":23,"r":1,"s":164.5,"l":2.11,"z":1},{"k":"g","g":"w","c":22,"r":1,"s":164,"l":2.2,"z":1},{"k":"g","g":"w","c":21,"r":1,"s":163.5,"l":2.28,"z":1},{"k":"g","g":"w","c":20,"r":1,"s":163,"l":2.36,"z":1},{"k":"g","g":"w","c":19,"r":1,"s":162.5,"l":2.44,"z":1},{"k":"g","g":"w","c":18,"r":1,"s":162,"l":2.52,"z":1},{"k":"g","g":"w","c":17,"r":1,"s":161.5,"l":2.61,"z":1},{"k":"g","g":"w","c":16,"r":1,"s":161,"l":2.69,"z":1},{"k":"g","g":"w","c":15,"r":1,"s":160.5,"l":2.77,"z":1},{"k":"g","g":"w","c":14,"r":1,"s":160,"l":2.85,"z":1},{"k":"g","g":"w","c":13,"r":1,"s":159.5,"l":2.93,"z":1},{"k":"g","g":"w","c":12,"r":1,"s":159,"l":3.02,"z":1},{"k":"g","g":"w","c":11,"r":1,"s":158.5,"l":3.1,"z":1},{"k":"g","g":"w","c":10,"r":1,"s":158,"l":3.18,"z":1},{"k":"g","g":"w","c":9,"r":1,"s":157.5,"l":3.26,"z":1},{"k":"g","g":"w","c":8,"r":1,"s":157,"l":3.34,"z":1},{"k":"g","g":"w","c":7,"r":1,"s":156.5,"l":3.43,"z":1},{"k":"g","g":"w","c":6,"r":1,"s":156,"l":3.51,"z":1},{"k":"g","g":"w","c":5,"r":1,"s":155.5,"l":3.59,"z":1},{"k":"g","g":"w","c":4,"r":1,"s":155,"l":3.67,"z":1},{"k":"g","g":"w","c":3,"r":1,"s":154.5,"l":3.75,"z":1},{"k":"g","g":"w","c":2,"r":1,"s":154,"l":3.84,"z":1},{"k":"g","g":"w","c":1,"r":1,"s":153.5,"l":3.92,"z":1},{"k":"g","g":"w","c":0,"r":1,"s":153,"l":4,"z":1},
{"k":"g","g":"w","c":24,"r":0,"s":165,"l":2.03,"z":0},{"k":"g","g":"w","c":23,"r":0,"s":164.5,"l":2.11,"z":0},{"k":"g","g":"w","c":22,"r":0,"s":164,"l":2.2,"z":0},{"k":"g","g":"w","c":21,"r":0,"s":163.5,"l":2.28,"z":0},{"k":"g","g":"w","c":20,"r":0,"s":163,"l":2.36,"z":0},{"k":"g","g":"w","c":19,"r":0,"s":162.5,"l":2.44,"z":0},{"k":"g","g":"w","c":18,"r":0,"s":162,"l":2.52,"z":0},{"k":"g","g":"w","c":17,"r":0,"s":161.5,"l":2.61,"z":0},{"k":"g","g":"w","c":16,"r":0,"s":161,"l":2.69,"z":0},{"k":"g","g":"w","c":15,"r":0,"s":160.5,"l":2.77,"z":0},{"k":"g","g":"w","c":14,"r":0,"s":160,"l":2.85,"z":0},{"k":"g","g":"w","c":13,"r":0,"s":159.5,"l":2.93,"z":0},{"k":"g","g":"w","c":12,"r":0,"s":159,"l":3.02,"z":0},{"k":"g","g":"w","c":11,"r":0,"s":158.5,"l":3.1,"z":0},{"k":"g","g":"w","c":10,"r":0,"s":158,"l":3.18,"z":0},{"k":"g","g":"w","c":9,"r":0,"s":157.5,"l":3.26,"z":0},{"k":"g","g":"w","c":8,"r":0,"s":157,"l":3.34,"z":0},{"k":"g","g":"w","c":7,"r":0,"s":156.5,"l":3.43,"z":0},{"k":"g","g":"w","c":6,"r":0,"s":156,"l":3.51,"z":0},{"k":"g","g":"w","c":5,"r":0,"s":155.5,"l":3.59,"z":0},{"k":"g","g":"w","c":4,"r":0,"s":155,"l":3.67,"z":0},{"k":"g","g":"w","c":3,"r":0,"s":154.5,"l":3.75,"z":0},{"k":"g","g":"w","c":2,"r":0,"s":154,"l":3.84,"z":0},{"k":"g","g":"w","c":1,"r":0,"s":153.5,"l":3.92,"z":0},{"k":"g","g":"w","c":0,"r":0,"s":153,"l":4,"z":0},
{"k":"cd","s":154,"l":4,"z":1,"s2":154,"l2":3.08,"z2":0},{"k":"cd","s":155,"l":4,"z":1,"s2":155,"l2":3.08,"z2":0},{"k":"cd","s":156,"l":4,"z":1,"s2":156,"l2":3.08,"z2":0},{"k":"cd","s":157,"l":4,"z":1,"s2":157,"l2":3.08,"z2":0},{"k":"cd","s":158,"l":4,"z":1,"s2":158,"l2":3.08,"z2":0},{"k":"cd","s":159,"l":4,"z":1,"s2":159,"l2":3.08,"z2":0},{"k":"cd","s":160,"l":4,"z":1,"s2":160,"l2":3.08,"z2":0},{"k":"cd","s":161.5,"l":4,"z":1,"s2":161.5,"l2":3.08,"z2":0},
{"k":"cd","s":161.7,"l":3.015,"z":1,"s2":161.7,"l2":2.1,"z2":0},{"k":"cd","s":162.5,"l":3.015,"z":1,"s2":162.5,"l2":2.1,"z2":0},{"k":"cd","s":163.3,"l":3.015,"z":1,"s2":163.3,"l2":2.1,"z2":0},{"k":"cd","s":164.1,"l":3.015,"z":1,"s2":164.1,"l2":2.1,"z2":0},{"k":"cd","s":165,"l":3.015,"z":1,"s2":165,"l2":2.1,"z2":0},
{"k":"cd","s":165,"l":2.03,"z":1,"s2":165,"l2":1.07,"z2":0},{"k":"cd","s":166,"l":2.03,"z":1,"s2":166,"l2":1.07,"z2":0},{"k":"cd","s":167,"l":2.03,"z":1,"s2":167,"l2":1.07,"z2":0},{"k":"cd","s":168,"l":2.03,"z":1,"s2":168,"l2":1.07,"z2":0},{"k":"cd","s":169,"l":2.03,"z":1,"s2":169,"l2":1.07,"z2":0},{"k":"cd","s":170,"l":2.03,"z":1,"s2":170,"l2":1.07,"z2":0},{"k":"cd","s":171,"l":2.03,"z":1,"s2":171,"l2":1.07,"z2":0},{"k":"cd","s":172,"l":2.03,"z":1,"s2":172,"l2":1.07,"z2":0},{"k":"cd","s":173,"l":2.03,"z":1,"s2":173,"l2":1.07,"z2":0},{"k":"cd","s":174,"l":2.03,"z":1,"s2":174,"l2":1.07,"z2":0},{"k":"cd","s":175,"l":2.03,"z":1,"s2":175,"l2":1.07,"z2":0},{"k":"cd","s":176,"l":2.03,"z":1,"s2":176,"l2":1.07,"z2":0},{"k":"cd","s":177,"l":2.03,"z":1,"s2":177,"l2":1.07,"z2":0},{"k":"cd","s":178,"l":2.03,"z":1,"s2":178,"l2":1.07,"z2":0},{"k":"cd","s":179,"l":2.03,"z":1,"s2":179,"l2":1.07,"z2":0},{"k":"cd","s":180,"l":2.03,"z":1,"s2":180,"l2":1.07,"z2":0},
{"k":"cd","s":161.7,"l":3.015,"z":1,"s2":161,"l2":3.015,"z2":0},{"k":"cd","s":165,"l":2.03,"z":1,"s2":164.5,"l2":2.03,"z2":0},{"k":"cd","s":154,"l":4,"z":1,"s2":153,"l2":4,"z2":0},
{"k":"ax","s":0,"l":4,"z":0,"s2":0,"l2":1,"z2":0},{"k":"ax","s":0,"l":1,"z":0,"s2":360,"l2":1,"z2":0},{"k":"ax","s":0,"l":4,"z":0,"s2":0,"l2":4,"z2":1},
{"k":"st","s":0,"l":1,"z":0,"t":"0"},{"k":"st","s":60,"l":1,"z":0,"t":"60"},{"k":"st","s":120,"l":1,"z":0,"t":"120"},{"k":"st","s":180,"l":1,"z":0,"t":"180"},{"k":"st","s":240,"l":1,"z":0,"t":"240"},{"k":"st","s":300,"l":1,"z":0,"t":"300"},{"k":"st","s":360,"l":1,"z":0,"t":"360"},
{"k":"lt","s":0,"l":1,"z":0,"t":"1"},{"k":"lt","s":0,"l":2,"z":0,"t":"2"},{"k":"lt","s":0,"l":3,"z":0,"t":"3"},{"k":"lt","s":0,"l":4,"z":0,"t":"4"},
{"k":"zt","s":0,"l":4,"z":0,"t":"0"},{"k":"zt","s":0,"l":4,"z":0.5,"t":"0.5"},{"k":"zt","s":0,"l":4,"z":1,"t":"1"},
{"k":"ti","s":160.6,"l":1,"z":-0.41,"t":"Samples"},{"k":"ti","s":-76.9,"l":1,"z":0.02,"t":"Levels"},{"k":"ty","s":-41.4,"l":4,"z":0.54,"t":"Amplitude"},{"k":"pl","s":-34.4,"l":4,"z":1.334,"t":"(e)"}
]
},
"concat":[
{"width":800,"height":860,"encoding":{"x":{"field":"ms","type":"quantitative","scale":{"domain":[0,1568],"nice":false,"zero":false},"axis":null},"y":{"field":"amp","type":"quantitative","scale":{"domain":[-176,2000],"nice":false,"zero":false},"axis":null}},
"layer":[
{"data":{"name":"a"},"mark":{"type":"line","color":"#2d4f87","strokeWidth":3}},
{"data":{"name":"aBars"},"mark":{"type":"rule","color":"#000","strokeWidth":5},"encoding":{"x2":{"field":"ms2"},"y2":{"field":"amp2"}}},
{"data":{"values":[{"ms":820,"amp":1820,"t":"R"},{"ms":665,"amp":1000,"t":"P"},{"ms":1130,"amp":985,"t":"T"},{"ms":747,"amp":655,"t":"Q"},{"ms":905,"amp":630,"t":"S"}]},"mark":{"type":"text","font":"Liberation Serif","fontWeight":"bold","fontSize":57,"align":"center","baseline":"alphabetic","color":"#000"},"encoding":{"text":{"field":"t"}}},
{"data":{"values":[{"ms":35,"amp":1770,"t":"(a)"}]},"mark":{"type":"text","font":"Liberation Serif","fontWeight":"bold","fontSize":99,"align":"left","baseline":"alphabetic","color":"#000"},"encoding":{"text":{"field":"t"}}},
{"data":{"values":[{"ms":232,"amp":1288,"t":"a.u."}]},"mark":{"type":"text","font":"Liberation Serif","fontWeight":"bold","fontSize":42,"angle":270,"align":"center","baseline":"alphabetic","color":"#000"},"encoding":{"text":{"field":"t"}}},
{"data":{"values":[{"ms":390,"amp":615,"t":"0.2 s"}]},"mark":{"type":"text","font":"Liberation Serif","fontWeight":"bold","fontSize":43,"align":"center","baseline":"alphabetic","color":"#000"},"encoding":{"text":{"field":"t"}}}
]},
{"width":786,"height":860,"data":{"name":"b"},"transform":[{"calculate":"1548+30*(datum.i-1)-122.5*(datum.l-1)","as":"X"},{"calculate":"715.5-5.7*(datum.i-1)-32.7*(datum.l-1)-147.2*(datum.z-0.857)","as":"Y"}],
"encoding":{"x":{"field":"X","type":"quantitative","scale":{"domain":[800,1586],"nice":false,"zero":false},"axis":null},"y":{"field":"Y","type":"quantitative","scale":{"domain":[860,0],"nice":false,"zero":false},"axis":null}},
"layer":[
{"transform":[{"filter":"datum.k=='ax'"},{"calculate":"1548+30*(datum.i2-1)-122.5*(datum.l2-1)","as":"X2"},{"calculate":"715.5-5.7*(datum.i2-1)-32.7*(datum.l2-1)-147.2*(datum.z2-0.857)","as":"Y2"}],"mark":{"type":"rule","color":"#262626","strokeWidth":1},"encoding":{"x2":{"field":"X2"},"y2":{"field":"Y2"}}},
{"transform":[{"filter":"datum.k=='lt'"},{"calculate":"datum.X-17","as":"X2"},{"calculate":"datum.Y+3","as":"Y2"}],"mark":{"type":"rule","color":"#262626","strokeWidth":1},"encoding":{"x2":{"field":"X2"},"y2":{"field":"Y2"}}},
{"transform":[{"filter":"datum.k=='zt'"},{"calculate":"datum.X-18","as":"X2"},{"calculate":"datum.Y-5","as":"Y2"}],"mark":{"type":"rule","color":"#262626","strokeWidth":1},"encoding":{"x2":{"field":"X2"},"y2":{"field":"Y2"}}},
{"transform":[{"filter":"datum.k=='wt'"},{"calculate":"datum.X+14","as":"X2"},{"calculate":"datum.Y+5","as":"Y2"}],"mark":{"type":"rule","color":"#262626","strokeWidth":1},"encoding":{"x2":{"field":"X2"},"y2":{"field":"Y2"}}},
{"transform":[{"filter":"datum.k=='g'"},{"calculate":"[datum.i,datum.i,datum.i-1,datum.i-1,datum.i]","as":"qc"},{"calculate":"[datum.l,datum.l,datum.l,datum.l-1,datum.l-1]","as":"qr"},{"calculate":"[0,4,1,2,3]","as":"o"},{"flatten":["qc","qr","o"]},{"calculate":"datum.qc+':'+datum.qr","as":"q"},{"joinaggregate":[{"op":"count","as":"n"},{"op":"min","field":"z","as":"lo"},{"op":"max","field":"z","as":"hi"}],"groupby":["q"]},{"filter":"datum.n==5"},{"calculate":"(datum.lo-0.9)/2.45","as":"tlo"},{"calculate":"(datum.hi-0.9)/2.45","as":"thi"},
{"calculate":"[{offset:0,color:pal[clamp(round(20*datum.tlo),0,20)]},{offset:0.125,color:pal[clamp(round(20*(datum.tlo+(datum.thi-datum.tlo)*0.125)),0,20)]},{offset:0.25,color:pal[clamp(round(20*(datum.tlo+(datum.thi-datum.tlo)*0.25)),0,20)]},{offset:0.375,color:pal[clamp(round(20*(datum.tlo+(datum.thi-datum.tlo)*0.375)),0,20)]},{offset:0.5,color:pal[clamp(round(20*(datum.tlo+(datum.thi-datum.tlo)*0.5)),0,20)]},{offset:0.625,color:pal[clamp(round(20*(datum.tlo+(datum.thi-datum.tlo)*0.625)),0,20)]},{offset:0.75,color:pal[clamp(round(20*(datum.tlo+(datum.thi-datum.tlo)*0.75)),0,20)]},{offset:0.875,color:pal[clamp(round(20*(datum.tlo+(datum.thi-datum.tlo)*0.875)),0,20)]},{offset:1,color:pal[clamp(round(20*datum.thi),0,20)]}]","as":"st"}],
"mark":{"type":"line","fill":{"expr":"{gradient:'linear',x1:0,y1:1,x2:0,y2:0,stops:datum.st}"},"stroke":"#111","strokeWidth":0.9,"strokeJoin":"round"},"encoding":{"detail":{"field":"q"},"order":{"field":"o"}}},
{"transform":[{"filter":"datum.k=='lt'"}],"mark":{"type":"text","font":"Liberation Sans","fontSize":35,"color":"#262626","align":"center","baseline":"middle","dx":-39,"dy":30},"encoding":{"text":{"field":"t"}}},
{"transform":[{"filter":"datum.k=='zt'"}],"mark":{"type":"text","font":"Liberation Sans","fontSize":34,"color":"#262626","align":"right","baseline":"middle","dx":-28,"dy":-6},"encoding":{"text":{"field":"t"}}},
{"transform":[{"filter":"datum.k=='wt'"}],"mark":{"type":"text","font":"Liberation Sans","fontSize":35,"color":"#262626","align":"left","baseline":"middle","angle":68,"dx":28,"dy":-2},"encoding":{"text":{"field":"t"}}},
{"transform":[{"filter":"datum.k=='ti'"}],"mark":{"type":"text","font":"Liberation Sans","fontSize":38,"color":"#262626","align":"center","baseline":"middle"},"encoding":{"text":{"field":"t"}}},
{"transform":[{"filter":"datum.k=='ty'"}],"mark":{"type":"text","font":"Liberation Sans","fontSize":38,"color":"#262626","align":"center","baseline":"middle","angle":270},"encoding":{"text":{"field":"t"}}},
{"transform":[{"filter":"datum.k=='pl'"}],"mark":{"type":"text","font":"Liberation Serif","fontWeight":"bold","fontSize":99,"color":"#000","align":"left","baseline":"alphabetic"},"encoding":{"text":{"field":"t"}}}
]},
{"width":1579,"height":860,"encoding":{"x":{"field":"ms","type":"quantitative","scale":{"domain":[-1439,1656],"nice":false,"zero":false},"axis":null},"y":{"field":"amp","type":"quantitative","scale":{"domain":[-372,1671],"nice":false,"zero":false},"axis":null}},
"layer":[
{"data":{"name":"c"},"mark":{"type":"line","color":"#2d4f87","strokeWidth":2.6}},
{"data":{"name":"cBars"},"mark":{"type":"rule","color":"#000","strokeWidth":5},"encoding":{"x2":{"field":"ms2"},"y2":{"field":"amp2"}}},
{"data":{"values":[{"ms":70,"amp":1457,"t":"(c)"}]},"mark":{"type":"text","font":"Liberation Serif","fontWeight":"bold","fontSize":99,"align":"left","baseline":"alphabetic","color":"#000"},"encoding":{"text":{"field":"t"}}},
{"data":{"values":[{"ms":237,"amp":875,"t":"a.u."}]},"mark":{"type":"text","font":"Liberation Serif","fontWeight":"bold","fontSize":42,"angle":270,"align":"center","baseline":"alphabetic","color":"#000"},"encoding":{"text":{"field":"t"}}},
{"data":{"values":[{"ms":487,"amp":175,"t":"0.2 s"}]},"mark":{"type":"text","font":"Liberation Serif","fontWeight":"bold","fontSize":43,"align":"center","baseline":"alphabetic","color":"#000"},"encoding":{"text":{"field":"t"}}}
]},
{"width":800,"height":837,"data":{"name":"d"},"transform":[{"calculate":"443.5+2.88*datum.s-99.2*(datum.l-1)","as":"X"},{"calculate":"1579-0.247*datum.s-103.7*(datum.l-1)-89*datum.z","as":"Y"}],
"encoding":{"x":{"field":"X","type":"quantitative","scale":{"domain":[0,800],"nice":false,"zero":false},"axis":null},"y":{"field":"Y","type":"quantitative","scale":{"domain":[1697,860],"nice":false,"zero":false},"axis":null}},
"layer":[
{"transform":[{"filter":"datum.k=='ax'"},{"calculate":"443.5+2.88*datum.s2-99.2*(datum.l2-1)","as":"X2"},{"calculate":"1579-0.247*datum.s2-103.7*(datum.l2-1)-89*datum.z2","as":"Y2"}],"mark":{"type":"rule","color":"#555","strokeWidth":1},"encoding":{"x2":{"field":"X2"},"y2":{"field":"Y2"}}},
{"transform":[{"filter":"datum.k=='st'"},{"calculate":"datum.X+17.5","as":"X2"},{"calculate":"datum.Y+17","as":"Y2"}],"mark":{"type":"rule","color":"#555","strokeWidth":1},"encoding":{"x2":{"field":"X2"},"y2":{"field":"Y2"}}},
{"transform":[{"filter":"datum.k=='lt'"},{"calculate":"datum.X-27","as":"X2"},{"calculate":"datum.Y+2","as":"Y2"}],"mark":{"type":"rule","color":"#555","strokeWidth":1},"encoding":{"x2":{"field":"X2"},"y2":{"field":"Y2"}}},
{"transform":[{"filter":"datum.k=='zt'"},{"calculate":"datum.X-19","as":"X2"},{"calculate":"datum.Y-19.6","as":"Y2"}],"mark":{"type":"rule","color":"#555","strokeWidth":1},"encoding":{"x2":{"field":"X2"},"y2":{"field":"Y2"}}},
{"transform":[{"filter":"datum.k=='p'"}],"mark":{"type":"line","fill":"#3c26a4","stroke":"#3c26a4","strokeWidth":1},"encoding":{"order":{"field":"o"}}},
{"transform":[{"filter":"datum.k=='pw'"}],"mark":{"type":"line","fill":"#3f2bae","stroke":"#3f2bae","strokeWidth":0.5},"encoding":{"order":{"field":"o"}}},
{"transform":[{"filter":"datum.k=='g'"},{"calculate":"[datum.c,datum.c,datum.c-1,datum.c-1,datum.c]","as":"qc"},{"calculate":"[datum.r,datum.r,datum.r,datum.r-1,datum.r-1]","as":"qr"},{"calculate":"[0,4,1,2,3]","as":"o"},{"flatten":["qc","qr","o"]},{"calculate":"datum.g+':'+datum.qc+':'+datum.qr","as":"q"},{"joinaggregate":[{"op":"count","as":"n"},{"op":"min","field":"z","as":"lo"},{"op":"max","field":"z","as":"hi"}],"groupby":["q"]},{"filter":"datum.n==5"},{"calculate":"datum.lo/2.52","as":"tlo"},{"calculate":"datum.hi/2.52","as":"thi"},
{"calculate":"[{offset:0,color:pal[clamp(round(20*datum.tlo),0,20)]},{offset:0.125,color:pal[clamp(round(20*(datum.tlo+(datum.thi-datum.tlo)*0.125)),0,20)]},{offset:0.25,color:pal[clamp(round(20*(datum.tlo+(datum.thi-datum.tlo)*0.25)),0,20)]},{offset:0.375,color:pal[clamp(round(20*(datum.tlo+(datum.thi-datum.tlo)*0.375)),0,20)]},{offset:0.5,color:pal[clamp(round(20*(datum.tlo+(datum.thi-datum.tlo)*0.5)),0,20)]},{offset:0.625,color:pal[clamp(round(20*(datum.tlo+(datum.thi-datum.tlo)*0.625)),0,20)]},{offset:0.75,color:pal[clamp(round(20*(datum.tlo+(datum.thi-datum.tlo)*0.75)),0,20)]},{offset:0.875,color:pal[clamp(round(20*(datum.tlo+(datum.thi-datum.tlo)*0.875)),0,20)]},{offset:1,color:pal[clamp(round(20*datum.thi),0,20)]}]","as":"st"}],
"mark":{"type":"line","fill":{"expr":"{gradient:'linear',x1:0,y1:1,x2:0,y2:0,stops:datum.st}"},"stroke":{"expr":"{gradient:'linear',x1:0,y1:1,x2:0,y2:0,stops:datum.st}"},"strokeWidth":0.6,"strokeJoin":"round"},"encoding":{"detail":{"field":"q"},"order":{"field":"o"}}},
{"transform":[{"filter":"datum.k=='cb'"},{"calculate":"443.5+2.88*datum.s2-99.2*(datum.l2-1)","as":"X2"},{"calculate":"1579-0.247*datum.s2-103.7*(datum.l2-1)-89*datum.z2","as":"Y2"}],"mark":{"type":"rule","color":"#3f70e8","strokeWidth":1.6},"encoding":{"x2":{"field":"X2"},"y2":{"field":"Y2"}}},
{"transform":[{"filter":"datum.k=='cd'"},{"calculate":"443.5+2.88*datum.s2-99.2*(datum.l2-1)","as":"X2"},{"calculate":"1579-0.247*datum.s2-103.7*(datum.l2-1)-89*datum.z2","as":"Y2"}],"mark":{"type":"rule","color":"#3e26a8","strokeWidth":2.2},"encoding":{"x2":{"field":"X2"},"y2":{"field":"Y2"}}},
{"transform":[{"filter":"datum.k=='st'"}],"mark":{"type":"text","font":"Liberation Sans","fontSize":35,"color":"#262626","align":"center","baseline":"middle","dx":50,"dy":49},"encoding":{"text":{"field":"t"}}},
{"transform":[{"filter":"datum.k=='lt'"}],"mark":{"type":"text","font":"Liberation Sans","fontSize":35,"color":"#262626","align":"center","baseline":"middle","dx":-48.5,"dy":25.5},"encoding":{"text":{"field":"t"}}},
{"transform":[{"filter":"datum.k=='zt'"}],"mark":{"type":"text","font":"Liberation Sans","fontSize":35,"color":"#262626","align":"right","baseline":"middle","dx":-28,"dy":-23},"encoding":{"text":{"field":"t"}}},
{"transform":[{"filter":"datum.k=='ti'"}],"mark":{"type":"text","font":"Liberation Sans","fontSize":38,"color":"#262626","align":"center","baseline":"middle"},"encoding":{"text":{"field":"t"}}},
{"transform":[{"filter":"datum.k=='ty'"}],"mark":{"type":"text","font":"Liberation Sans","fontSize":38,"color":"#262626","align":"center","baseline":"middle","angle":270},"encoding":{"text":{"field":"t"}}},
{"transform":[{"filter":"datum.k=='pl'"}],"mark":{"type":"text","font":"Liberation Serif","fontWeight":"bold","fontSize":99,"color":"#000","align":"left","baseline":"alphabetic"},"encoding":{"text":{"field":"t"}}}
]},
{"width":786,"height":837,"data":{"values":[]},"mark":"point"},
{"width":1579,"height":837,"data":{"name":"e"},"transform":[{"calculate":"2029.5+2.88*datum.s-99.2*(datum.l-1)","as":"X"},{"calculate":"1579-0.247*datum.s-103.7*(datum.l-1)-267*datum.z","as":"Y"}],
"encoding":{"x":{"field":"X","type":"quantitative","scale":{"domain":[1586,3165],"nice":false,"zero":false},"axis":null},"y":{"field":"Y","type":"quantitative","scale":{"domain":[1697,860],"nice":false,"zero":false},"axis":null}},
"layer":[
{"transform":[{"filter":"datum.k=='ax'"},{"calculate":"2029.5+2.88*datum.s2-99.2*(datum.l2-1)","as":"X2"},{"calculate":"1579-0.247*datum.s2-103.7*(datum.l2-1)-267*datum.z2","as":"Y2"}],"mark":{"type":"rule","color":"#555","strokeWidth":1},"encoding":{"x2":{"field":"X2"},"y2":{"field":"Y2"}}},
{"transform":[{"filter":"datum.k=='st'"},{"calculate":"datum.X+17.5","as":"X2"},{"calculate":"datum.Y+17","as":"Y2"}],"mark":{"type":"rule","color":"#555","strokeWidth":1},"encoding":{"x2":{"field":"X2"},"y2":{"field":"Y2"}}},
{"transform":[{"filter":"datum.k=='lt'"},{"calculate":"datum.X-27","as":"X2"},{"calculate":"datum.Y+2","as":"Y2"}],"mark":{"type":"rule","color":"#555","strokeWidth":1},"encoding":{"x2":{"field":"X2"},"y2":{"field":"Y2"}}},
{"transform":[{"filter":"datum.k=='zt'"},{"calculate":"datum.X-19","as":"X2"},{"calculate":"datum.Y-19.6","as":"Y2"}],"mark":{"type":"rule","color":"#555","strokeWidth":1},"encoding":{"x2":{"field":"X2"},"y2":{"field":"Y2"}}},
{"transform":[{"filter":"datum.k=='p'"}],"mark":{"type":"line","fill":"#3c26a4","stroke":"#3c26a4","strokeWidth":1},"encoding":{"order":{"field":"o"}}},
{"transform":[{"filter":"datum.k=='py'"}],"mark":{"type":"line","fill":"#f9fb15","stroke":"#f9fb15","strokeWidth":1},"encoding":{"order":{"field":"o"}}},
{"transform":[{"filter":"datum.k=='g'"},{"calculate":"[datum.c,datum.c,datum.c-1,datum.c-1,datum.c]","as":"qc"},{"calculate":"[datum.r,datum.r,datum.r,datum.r-1,datum.r-1]","as":"qr"},{"calculate":"[0,4,1,2,3]","as":"o"},{"flatten":["qc","qr","o"]},{"calculate":"datum.g+':'+datum.qc+':'+datum.qr","as":"q"},{"joinaggregate":[{"op":"count","as":"n"},{"op":"min","field":"z","as":"lo"},{"op":"max","field":"z","as":"hi"}],"groupby":["q"]},{"filter":"datum.n==5"},{"calculate":"datum.lo","as":"tlo"},{"calculate":"datum.hi","as":"thi"},
{"calculate":"[{offset:0,color:pal[clamp(round(20*datum.tlo),0,20)]},{offset:0.1,color:pal[clamp(round(20*(datum.tlo+(datum.thi-datum.tlo)*0.1)),0,20)]},{offset:0.2,color:pal[clamp(round(20*(datum.tlo+(datum.thi-datum.tlo)*0.2)),0,20)]},{offset:0.3,color:pal[clamp(round(20*(datum.tlo+(datum.thi-datum.tlo)*0.3)),0,20)]},{offset:0.4,color:pal[clamp(round(20*(datum.tlo+(datum.thi-datum.tlo)*0.4)),0,20)]},{offset:0.5,color:pal[clamp(round(20*(datum.tlo+(datum.thi-datum.tlo)*0.5)),0,20)]},{offset:0.6,color:pal[clamp(round(20*(datum.tlo+(datum.thi-datum.tlo)*0.6)),0,20)]},{offset:0.7,color:pal[clamp(round(20*(datum.tlo+(datum.thi-datum.tlo)*0.7)),0,20)]},{offset:0.8,color:pal[clamp(round(20*(datum.tlo+(datum.thi-datum.tlo)*0.8)),0,20)]},{offset:0.9,color:pal[clamp(round(20*(datum.tlo+(datum.thi-datum.tlo)*0.9)),0,20)]},{offset:1,color:pal[clamp(round(20*datum.thi),0,20)]}]","as":"st"}],
"mark":{"type":"line","fill":{"expr":"{gradient:'linear',x1:0,y1:1,x2:0,y2:0,stops:datum.st}"},"stroke":{"expr":"{gradient:'linear',x1:0,y1:1,x2:0,y2:0,stops:datum.st}"},"strokeWidth":0.8,"strokeJoin":"round"},"encoding":{"detail":{"field":"q"},"order":{"field":"o"}}},
{"transform":[{"filter":"datum.k=='cd'"},{"calculate":"2029.5+2.88*datum.s2-99.2*(datum.l2-1)","as":"X2"},{"calculate":"1579-0.247*datum.s2-103.7*(datum.l2-1)-267*datum.z2","as":"Y2"}],"mark":{"type":"rule","color":"#3e26a8","strokeWidth":0.8,"opacity":0.9},"encoding":{"x2":{"field":"X2"},"y2":{"field":"Y2"}}},
{"transform":[{"filter":"datum.k=='st'"}],"mark":{"type":"text","font":"Liberation Sans","fontSize":35,"color":"#262626","align":"center","baseline":"middle","dx":50,"dy":49},"encoding":{"text":{"field":"t"}}},
{"transform":[{"filter":"datum.k=='lt'"}],"mark":{"type":"text","font":"Liberation Sans","fontSize":35,"color":"#262626","align":"center","baseline":"middle","dx":-48.5,"dy":25.5},"encoding":{"text":{"field":"t"}}},
{"transform":[{"filter":"datum.k=='zt'"}],"mark":{"type":"text","font":"Liberation Sans","fontSize":35,"color":"#262626","align":"right","baseline":"middle","dx":-28,"dy":-23},"encoding":{"text":{"field":"t"}}},
{"transform":[{"filter":"datum.k=='ti'"}],"mark":{"type":"text","font":"Liberation Sans","fontSize":38,"color":"#262626","align":"center","baseline":"middle"},"encoding":{"text":{"field":"t"}}},
{"transform":[{"filter":"datum.k=='ty'"}],"mark":{"type":"text","font":"Liberation Sans","fontSize":38,"color":"#262626","align":"center","baseline":"middle","angle":270},"encoding":{"text":{"field":"t"}}},
{"transform":[{"filter":"datum.k=='pl'"}],"mark":{"type":"text","font":"Liberation Serif","fontWeight":"bold","fontSize":99,"color":"#000","align":"left","baseline":"alphabetic"},"encoding":{"text":{"field":"t"}}}
]}
]}
